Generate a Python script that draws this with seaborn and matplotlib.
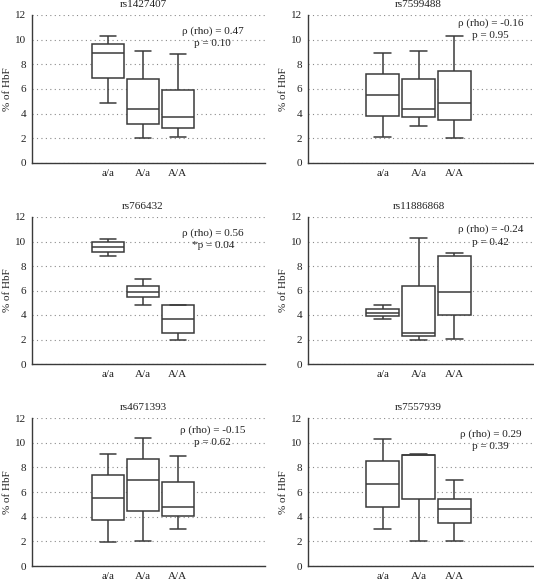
import numpy as np
import pandas as pd
import matplotlib
matplotlib.use('Agg')
import matplotlib.pyplot as plt
import matplotlib.transforms as mtransforms
import seaborn as sns

# style
sns.set_style('white')
plt.rcParams['font.family'] = ['Liberation Serif', 'DejaVu Serif']
plt.rcParams['font.size'] = 8

## Data ------------------------------------------------------------------
genotypes = ['a/a', 'A/a', 'A/A']
snps = ['rs1427407', 'rs7599488', 'rs766432', 'rs11886868', 'rs4671393', 'rs7557939']
rho_vals = ['0.47', '-0.16', '0.56', '-0.24', '-0.15', '0.29']
p_vals = ['0.10', '0.95', '0.04', '0.42', '0.62', '0.39']
p_star = [False, False, True, False, False, False]

# five numbers per genotype: min, q1, median, q3, max (% of HbF)
rs1427407 = [[4.9, 6.9, 8.95, 9.65, 10.3],
             [2.0, 3.2, 4.4, 6.8, 9.1],
             [2.1, 2.8, 3.75, 5.9, 8.85]]
rs7599488 = [[2.1, 3.8, 5.5, 7.25, 8.95],
             [3.0, 3.7, 4.4, 6.8, 9.1],
             [2.0, 3.45, 4.85, 7.45, 10.3]]
rs766432 = [[8.8, 9.15, 9.55, 10.0, 10.2],
            [4.85, 5.45, 5.85, 6.4, 6.9],
            [1.95, 2.55, 3.7, 4.8, 4.8]]
rs11886868 = [[3.7, 3.95, 4.2, 4.5, 4.8],
              [1.95, 2.3, 2.55, 6.4, 10.25],
              [2.05, 4.0, 5.85, 8.8, 9.05]]
rs4671393 = [[1.95, 3.75, 5.5, 7.35, 9.1],
             [2.05, 4.5, 6.95, 8.7, 10.35],
             [3.0, 4.05, 4.8, 6.85, 8.95]]
rs7557939 = [[3.0, 4.8, 6.65, 8.5, 10.3],
             [2.0, 5.45, 9.0, 9.0, 9.1],
             [2.05, 3.45, 4.6, 5.4, 7.0]]
box_data = [rs1427407, rs7599488, rs766432, rs11886868, rs4671393, rs7557939]

# label heights (ρ line) per panel
label_y = [10.7, 11.35, 10.7, 11.0, 11.05, 10.7]

## Plot ------------------------------------------------------------------
W, H = 534, 580
fig = plt.figure(figsize=(W / 100, H / 100), dpi=100)

cols = [(32, 265, -2.17, 4.49), (308, 533, -2.08, 4.19)]
rows = [(15, 163), (217, 364), (418, 566)]

for i, snp in enumerate(snps):
    r, c = divmod(i, 2)
    x0, x1, xl, xr = cols[c]
    top, bot = rows[r]
    ax = fig.add_axes([x0 / W, 1 - bot / H, (x1 - x0) / W, (bot - top) / H])

    df = pd.DataFrame({
        'geno': np.repeat(genotypes, 5),
        'hbf': np.concatenate(box_data[i]),
    })
    sns.boxplot(data=df, x='geno', y='hbf', order=genotypes, ax=ax,
                width=0.92, whis=(0, 100), color='white', linecolor='#3a3a3a',
                linewidth=1.1, fliersize=0, saturation=1)

    ax.set_xlim(xl, xr)
    ax.set_ylim(0, 12)
    ax.set_yticks(range(0, 13, 2))
    ax.grid(axis='y', linestyle=(0, (1, 3)), color='#8a8a8a', linewidth=0.8)
    ax.grid(axis='x', visible=False)
    ax.set_axisbelow(True)
    for s in ['top', 'right']:
        ax.spines[s].set_visible(False)
    for s in ['left', 'bottom']:
        ax.spines[s].set_color('#3a3a3a')
        ax.spines[s].set_linewidth(1.0)
    ax.tick_params(axis='both', length=0, pad=4, labelsize=8, colors='#222222')
    ax.set_xlabel('')
    ax.set_ylabel('% of HbF', fontsize=8, color='#222222')
    ax.yaxis.set_label_coords(-20 / (x1 - x0), 0.5)

    # title centred over the middle genotype
    trans = mtransforms.blended_transform_factory(ax.transData, ax.transAxes)
    ax.text(1, 1.04, snp, transform=trans, ha='center', va='bottom',
            fontsize=8, color='#222222')

    ptxt = ('*p = ' if p_star[i] else 'p = ') + p_vals[i]
    ax.text(3.0, label_y[i], f'ρ (rho) = {rho_vals[i]}', ha='center', va='center',
            fontsize=8, color='#222222')
    ax.text(3.0, label_y[i] - 1.05, ptxt, ha='center', va='center',
            fontsize=8, color='#222222')

fig.savefig('out.png', dpi=100, facecolor='white')
